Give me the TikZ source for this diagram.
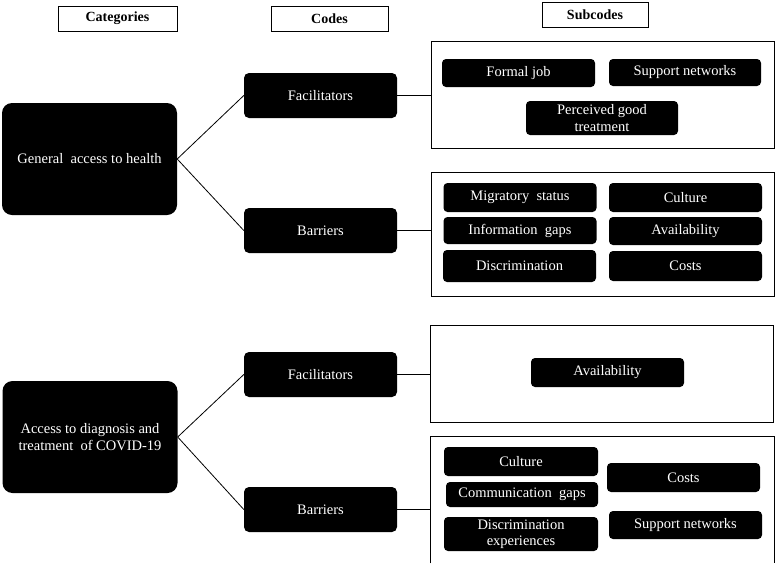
\documentclass[tikz,border=0pt]{standalone}
\usepackage{fontspec}
\setmainfont{Liberation Serif}

\begin{document}
\begin{tikzpicture}[x=1pt,y=-1pt,
    head/.style={draw,line width=0.8pt,minimum height=25pt,inner sep=1pt,font=\fontsize{14}{16}\selectfont\bfseries},
    dark/.style={fill=black,text=white,rounded corners=4pt,align=center,inner sep=1pt,font=\fontsize{14.5}{16.5}\selectfont},
    catbox/.style={dark,minimum width=175pt,minimum height=112pt,rounded corners=10pt},
    codebox/.style={dark,minimum width=153pt,minimum height=45pt,rounded corners=5pt},
    subbox/.style={dark,minimum width=153pt,minimum height=28pt},
    group/.style={draw,line width=0.8pt,minimum width=343pt},
    link/.style={line width=0.8pt}]
  \useasboundingbox (0,0) rectangle (776,563);

  % headers
  \node[head,minimum width=119pt] (hcat) at (117.5,18.5) {Categories};
  \node[head,minimum width=117pt] (hcode) at (329.5,19) {Codes};
  \node[head,minimum width=106pt] (hsub) at (595,14.5) {Subcodes};

  % categories and codes
  \node[catbox] (cat1) at (89.5,159) {General\ \ access to health};
  \node[catbox] (cat2) at (90,437) {Access to diagnosis and\\treatment\ \ of COVID-19};
  \node[codebox] (fac1) at (320.5,95.5) {Facilitators};
  \node[codebox] (bar1) at (320.5,230.5) {Barriers};
  \node[codebox] (fac2) at (320.5,374.5) {Facilitators};
  \node[codebox] (bar2) at (320.5,509.5) {Barriers};

  % subcode groups
  \node[group,minimum height=107pt] (g1) at (602.5,94.5) {};
  \node[group,minimum height=124pt] (g2) at (602.5,234) {};
  \node[group,minimum height=97pt] (g3) at (602,373.5) {};
  \node[group,draw=none,minimum height=126pt] (g4) at (602.5,500) {};
  \draw[link] (g4.south west) |- (g4.north east) -- (g4.south east);

  \node[subbox] (formal) at (518.5,73) {Formal job};
  \node[subbox,minimum width=152pt,minimum height=27pt] (supp1) at (685,72.5) {Support networks};
  \node[subbox,minimum width=152pt,minimum height=34pt] (perc) at (602,118) {Perceived good\\treatment};

  \node[subbox,minimum height=29pt] (mig) at (520,197.5) {Migratory\ \ status};
  \node[subbox,minimum height=29pt] (cult1) at (685.5,197.5) {Culture};
  \node[subbox,minimum height=27pt] (info) at (520,230.5) {Information\ \ gaps};
  \node[subbox] (avail1) at (685.5,231) {Availability};
  \node[subbox,minimum height=32pt] (disc1) at (519.5,266) {Discrimination};
  \node[subbox,minimum height=30pt] (costs1) at (685.5,266) {Costs};

  \node[subbox,minimum height=29pt] (avail2) at (607.5,372.5) {Availability};

  \node[subbox,minimum width=154pt,minimum height=29pt] (cult2) at (521,461.5) {Culture};
  \node[subbox,minimum width=152pt,minimum height=25pt] (comm) at (522,494.5) {Communication\ \ gaps};
  \node[subbox,minimum width=154pt,minimum height=34pt] (disc2) at (521,534) {Discrimination\\experiences};
  \node[subbox,minimum height=29pt] (costs2) at (683.5,477.5) {Costs};
  \node[subbox] (supp2) at (685.5,525) {Support networks};

  % connectors
  \draw[link] (cat1.east) -- (fac1.west)
              (cat1.east) -- (bar1.west)
              (cat2.east) -- (fac2.west)
              (cat2.east) -- (bar2.west);
  \draw[link] (fac1.east) -- (fac1.east -| g1.west)
              (bar1.east) -- (bar1.east -| g2.west)
              (fac2.east) -- (fac2.east -| g3.west)
              (bar2.east) -- (bar2.east -| g4.west);
\end{tikzpicture}
\end{document}
